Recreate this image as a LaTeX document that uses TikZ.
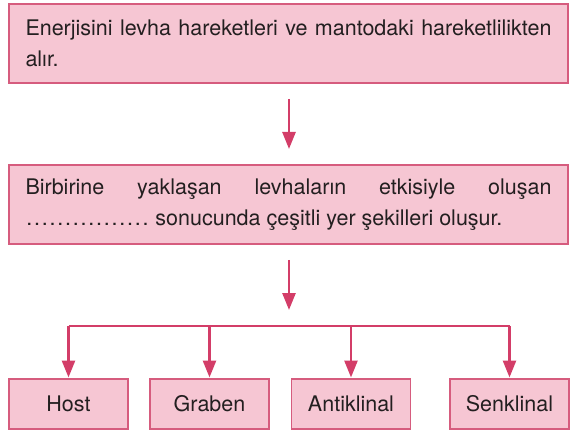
\documentclass[tikz,border=0pt]{standalone}
\usepackage{fontspec}
\setmainfont{TeX Gyre Heros}
\usetikzlibrary{arrows.meta,positioning,calc}
\definecolor{boxfill}{RGB}{246,198,211}
\definecolor{boxline}{RGB}{214,92,126}
\definecolor{arrowcol}{RGB}{211,61,104}
\definecolor{txt}{RGB}{35,31,32}
\tikzset{
  >={Triangle[width=13pt,length=17pt]},
  box/.style={draw=boxline,line width=1.4pt,fill=boxfill,text=txt,inner sep=0pt,outer sep=0pt,
    minimum width=559pt,minimum height=79pt,text width=526pt,align=justify,
    font=\fontsize{21.5}{31}\selectfont},
  leaf/.style={draw=boxline,line width=1.4pt,fill=boxfill,text=txt,inner sep=0pt,outer sep=0pt,
    minimum width=119pt,minimum height=50pt,font=\fontsize{21.5}{24}\selectfont},
  flow/.style={draw=arrowcol,line width=2.6pt},
  bar/.style={draw=arrowcol,line width=2pt}
}
\newcommand{\blank}{\hbox to 124pt{\leaders\hbox to 7.75pt{\hss.\hss}\hfill}}

\begin{document}
\begin{tikzpicture}[x=1pt,y=1pt]
\useasboundingbox (0,0) rectangle (570,-430);
\node[box] (top) at (288.5,-43.5) {Enerjisini levha hareketleri ve mantodaki hareketlilikten\linebreak alır.};
\node[box] (mid) at (288.5,-204.5) {Birbirine yaklaşan levhaların etkisiyle oluşan\linebreak \blank\ sonucunda çeşitli yer şekilleri oluşur.};
\node[leaf] (host) at (68.5,-404) {Host};
\node[leaf] (graben) at (209.5,-404) {Graben};
\node[leaf] (anti) at (351,-404) {Antiklinal};
\node[leaf] (senk) at (509.5,-404) {Senklinal};
\coordinate (fork) at (289,-310);
\coordinate (split) at (289,-326);
% arrows between the two text boxes
\draw[flow,->,shorten <=16pt,shorten >=16pt] (top.south -| fork) -- (mid.north -| fork);
\draw[flow,->,shorten <=16pt] (mid.south -| fork) -- (fork);
% branch line and the four leaves
\draw[bar] (host.north |- split) -- (senk.north |- split);
\foreach \n in {host,graben,anti,senk}
  \draw[flow,->,shorten >=1.5pt] (\n.north |- split) -- (\n.north);
\end{tikzpicture}
\end{document}
